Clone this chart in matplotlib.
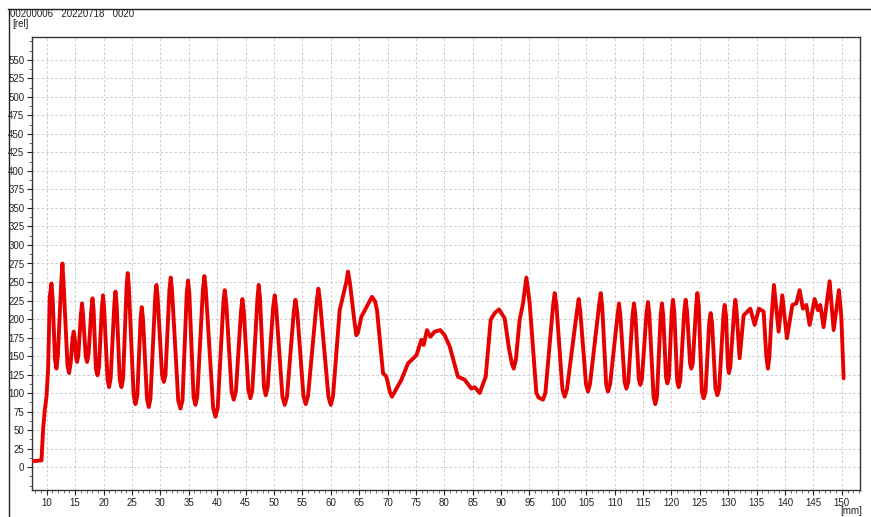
import matplotlib
matplotlib.use("Agg")
import matplotlib.pyplot as plt
from matplotlib.ticker import MultipleLocator
from matplotlib.lines import Line2D

# position [mm] and signal [rel]
pos = [7.54, 9.07, 9.35, 9.65, 9.95, 10.23, 10.53, 10.83, 11.05,
       11.45, 11.71, 11.95, 12.55, 12.76, 12.95, 13.65, 13.93, 14.2,
       14.55, 14.75, 14.95, 15.15, 15.33, 15.55, 16.0, 16.21, 16.4,
       16.85, 17.10, 17.35, 17.85, 18.05, 18.25, 18.65, 18.93, 19.2,
       19.7, 19.91, 20.1, 20.7, 20.97, 21.25, 21.9, 22.10, 22.3,
       22.85, 23.15, 23.45, 24.05, 24.26, 24.45, 25.3, 25.62, 25.95,
       26.52, 26.73, 26.95, 27.65, 27.96, 28.25, 29.1, 29.31, 29.52,
       30.3, 30.60, 30.9, 31.6, 31.83, 32.05, 33.15, 33.54, 33.9,
       34.65, 34.88, 35.1, 35.85, 36.18, 36.5, 37.5, 37.76, 38.0,
       39.3, 39.70, 40.1, 41.1, 41.34, 41.6, 42.55, 42.92, 43.3,
       44.2, 44.45, 44.7, 45.5, 45.86, 46.2, 47.1, 47.32, 47.55,
       48.25, 48.56, 48.9, 49.85, 50.14, 50.4, 51.5, 51.90, 52.3,
       53.5, 53.79, 54.1, 55.2, 55.60, 56.0, 57.55, 57.83, 58.1,
       59.6, 60.00, 60.4, 61.58, 62.75, 63.05, 63.4, 64.2, 64.52, 64.8,
       65.40, 66.7, 67.27, 67.8, 68.15, 69.21, 69.81, 70.4, 70.79, 71.3,
       72.45, 73.61, 75.09, 75.97, 76.37, 76.95, 77.55, 78.31, 79.31,
       80.07, 80.95, 82.41, 83.59, 84.77, 85.35, 86.23, 87.29, 88.17,
       88.87, 89.63, 90.63, 91.39, 91.9, 92.22, 92.6, 93.27, 93.86, 94.45,
       95.04, 96.21, 96.6, 97.38, 97.8, 99.15, 99.44, 99.75, 100.8, 101.20,
       101.6, 103.35, 103.66, 103.95, 104.95, 105.30, 105.65, 107.25,
       107.54, 107.8, 108.5, 108.82, 109.2, 110.5, 110.76, 111.0, 111.75,
       112.06, 112.4, 113.15, 113.40, 113.65, 114.25, 114.52, 114.8,
       115.6, 115.86, 116.1, 116.85, 117.16, 117.45, 118.1, 118.33,
       118.55, 119.05, 119.28, 119.55, 120.05, 120.26, 120.5, 121.0,
       121.27, 121.55, 122.25, 122.50, 122.75, 123.28, 123.50, 123.75,
       124.35, 124.56, 124.8, 125.35, 125.67, 126.0, 126.65, 126.90,
       127.15, 127.75, 128.08, 128.4, 129.15, 129.37, 129.6, 129.95,
       130.12, 130.35, 131.05, 131.25, 131.45, 132.00, 132.71, 133.89,
       134.65, 135.40, 136.23, 136.7, 136.99, 137.25, 137.59, 138.05,
       138.87, 139.52, 140.33, 141.29, 141.99, 142.57, 143.15, 143.75,
       144.33, 145.21, 145.79, 146.21, 146.79, 147.85, 148.56, 149.49,
       149.91, 150.32]
signal = [8, 9, 50, 77, 95, 131, 230, 248, 225,
          145, 133, 150, 250, 275, 250, 137, 127, 140,
          175, 183, 172, 148, 142, 150, 205, 221, 205,
          150, 142, 152, 212, 228, 212, 133, 124, 135,
          215, 232, 215, 118, 108, 120, 220, 237, 220,
          118, 108, 120, 243, 262, 243, 97, 85, 97,
          200, 216, 200, 92, 81, 92, 230, 246, 230,
          124, 115, 124, 240, 256, 240, 90, 79, 90,
          235, 252, 235, 95, 84, 95, 240, 258, 240,
          80, 68, 80, 222, 239, 222, 102, 91, 102,
          210, 227, 210, 104, 93, 104, 228, 246, 228,
          108, 97, 108, 215, 232, 215, 95, 84, 95,
          210, 226, 210, 96, 85, 96, 225, 241, 225,
          95, 84, 95, 212, 250, 264, 248, 195, 178, 182,
          203, 222, 230, 224, 212, 127, 122, 102, 95, 102,
          118, 140, 151, 172, 165, 185, 176, 183, 185,
          178, 163, 122, 118, 106, 108, 100, 122, 199,
          208, 213, 201, 160, 140, 133, 145, 199, 221, 256,
          221, 100, 94, 91, 100, 218, 235, 218, 105, 95,
          105, 210, 227, 210, 112, 102, 112, 218,
          235, 218, 112, 102, 112, 205, 221, 205, 115,
          106, 115, 205, 221, 205, 119, 111, 119,
          207, 223, 207, 95, 85, 95, 205, 221,
          205, 121, 113, 121, 210, 226, 210, 117,
          108, 117, 210, 226, 210, 140, 133, 140,
          218, 235, 218, 102, 93, 102, 195, 208,
          195, 106, 97, 106, 205, 219, 205, 135,
          127, 135, 212, 226, 212, 147, 205, 214,
          192, 214, 210, 150, 133, 150, 199, 246,
          183, 232, 174, 219, 221, 239, 214, 219,
          192, 227, 212, 219, 189, 251, 185, 239,
          203, 120]

y_ticks = list(range(0, 551, 25))
x_ticks = list(range(10, 151, 5))
header = "00200006   20220718   0020"
y_unit = "[rel]"
x_unit = "[mm]"

plt.rcParams['font.family'] = ['Liberation Sans', 'DejaVu Sans']
fig = plt.figure(figsize=(8.71, 5.17), dpi=100)
ax = fig.add_axes([32/871, 1-490/517, (860-32)/871, (490-37)/517])

ax.plot(pos, signal, color='#e60000', lw=2.8, solid_joinstyle='round',
        solid_capstyle='round', zorder=3)

ax.set_xlim(7.4, 153.2)
ax.set_ylim(-31, 581)
ax.set_yticks(y_ticks)
ax.set_xticks(x_ticks)
ax.xaxis.set_minor_locator(MultipleLocator(1))
ax.yaxis.set_minor_locator(MultipleLocator(12.5))
ax.tick_params(axis='both', which='major', direction='out', length=3.5, width=0.8,
               labelsize=7, colors='#222222', pad=2)
ax.tick_params(axis='both', which='minor', direction='out', length=2, width=0.6,
               colors='#555555')
ax.grid(True, which='major', color='#c4c4c4', linestyle=(0, (3, 2.5)), lw=0.6)
for s in ax.spines.values():
    s.set_color('#333333')
    s.set_linewidth(1.0)

fig.text(10/871, 1-14/517, header, fontsize=7, va='center', ha='left', color='#222222')
fig.text(12/871, 1-24/517, y_unit, fontsize=7, va='center', ha='left', color='#222222')
fig.text(840/871, 0.002, x_unit, fontsize=7, va='bottom', ha='left', color='#222222')

fig.add_artist(Line2D([8/871, 1], [1-8.5/517, 1-8.5/517], transform=fig.transFigure,
                      color='#222222', lw=1.0))
fig.add_artist(Line2D([8.5/871, 8.5/871], [1-8.5/517, 0], transform=fig.transFigure,
                      color='#222222', lw=1.0))

fig.savefig("out.png", dpi=100)
